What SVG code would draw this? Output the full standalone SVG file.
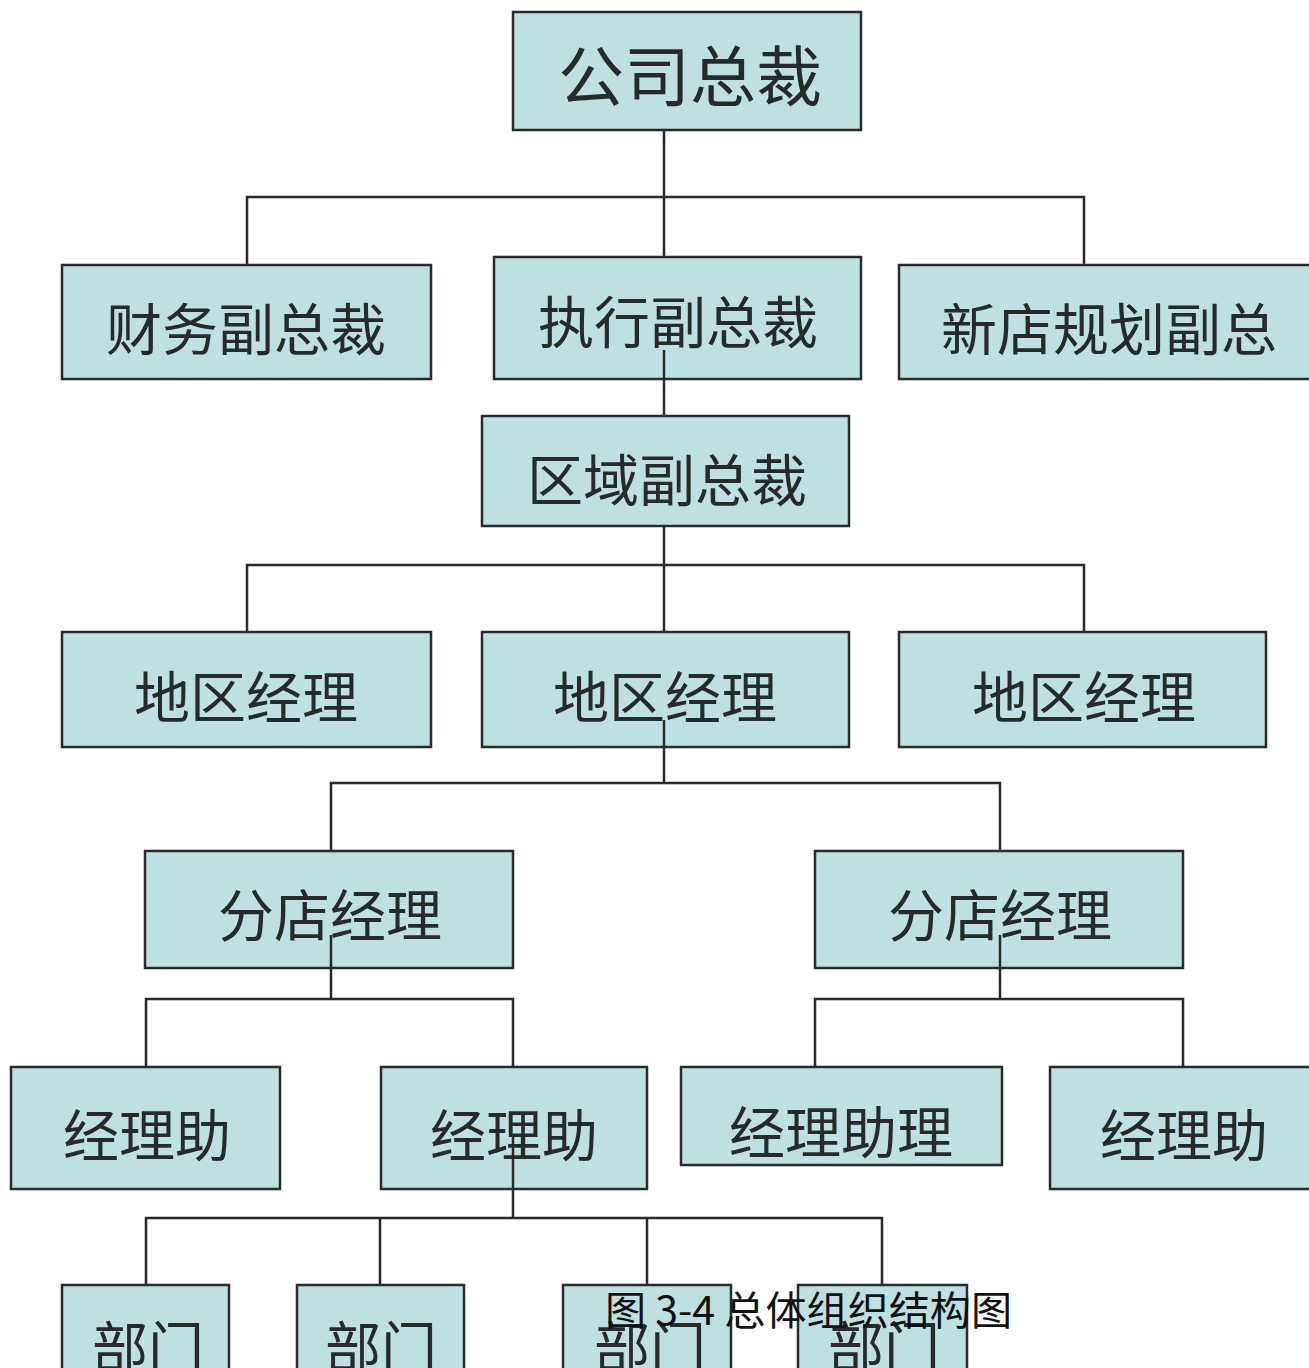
<svg xmlns="http://www.w3.org/2000/svg" width="1309" height="1368" viewBox="0 0 1309 1368">
<style>
.box{fill:#bfe0e2;stroke:#2a2a2a;stroke-width:2.5}
.t{font-family:"Noto Sans CJK SC","Noto Sans",sans-serif;font-size:56px;fill:#262a2b;text-anchor:middle;dominant-baseline:central}
.big{font-size:66px}
.ln{fill:none;stroke:#2a2a2a;stroke-width:2.5}
.cap{font-family:"Noto Sans CJK SC","Noto Sans",serif;font-size:40px;fill:#111}
</style>
<rect width="1309" height="1368" fill="#ffffff"/>
<g id="n-ceo"><rect class="box" x="513" y="12" width="348" height="118"/><text class="t big" x="690" y="72">公司总裁</text></g>
<g id="n-cfo"><rect class="box" x="62" y="265" width="369" height="114"/><text class="t" x="246" y="325">财务副总裁</text></g>
<g id="n-evp"><rect class="box" x="494" y="257" width="367" height="122"/><text class="t" x="678" y="318">执行副总裁</text></g>
<g id="n-new"><rect class="box" x="899" y="265" width="420" height="114"/><text class="t" x="1109" y="325">新店规划副总</text></g>
<g id="n-region"><rect class="box" x="482" y="416" width="367" height="110"/><text class="t" x="667" y="476">区域副总裁</text></g>
<g id="n-area1"><rect class="box" x="62" y="632" width="369" height="115"/><text class="t" x="246" y="693">地区经理</text></g>
<g id="n-area2"><rect class="box" x="482" y="632" width="367" height="115"/><text class="t" x="665" y="693">地区经理</text></g>
<g id="n-area3"><rect class="box" x="899" y="632" width="367" height="115"/><text class="t" x="1084" y="693">地区经理</text></g>
<g id="n-store1"><rect class="box" x="145" y="851" width="368" height="117"/><text class="t" x="330" y="911">分店经理</text></g>
<g id="n-store2"><rect class="box" x="815" y="851" width="368" height="117"/><text class="t" x="1000" y="911">分店经理</text></g>
<g id="n-asst1"><rect class="box" x="11" y="1067" width="269" height="122"/><text class="t" x="147" y="1131">经理助</text></g>
<g id="n-asst2"><rect class="box" x="381" y="1067" width="266" height="122"/><text class="t" x="514" y="1131">经理助</text></g>
<g id="n-asst3"><rect class="box" x="681" y="1067" width="321" height="98"/><text class="t" x="841" y="1128">经理助理</text></g>
<g id="n-asst4"><rect class="box" x="1050" y="1067" width="269" height="122"/><text class="t" x="1184" y="1131">经理助</text></g>
<g id="n-dept1"><rect class="box" x="62" y="1285" width="167" height="100"/><text class="t" x="148" y="1343">部门</text></g>
<g id="n-dept2"><rect class="box" x="297" y="1285" width="167" height="100"/><text class="t" x="381" y="1343">部门</text></g>
<g id="n-dept3"><rect class="box" x="563" y="1285" width="168" height="100"/><text class="t" x="650" y="1343">部门</text></g>
<g id="n-dept4"><rect class="box" x="798" y="1285" width="169" height="100"/><text class="t" x="884" y="1343">部门</text></g>
<g id="connectors">
<path class="ln" d="M664 130V257M247 265V197H1084V265"/>
<path class="ln" d="M664 350V416"/>
<path class="ln" d="M664 526V632M247 632V565H1084V632"/>
<path class="ln" d="M664 720V783M331 851V783H1000V851"/>
<path class="ln" d="M331 935V999M146 1067V999H513V1067"/>
<path class="ln" d="M1000 935V999M815 1067V999H1183V1067"/>
<path class="ln" d="M513 1135V1218M146 1285V1218H882V1285M380 1218V1285M647 1218V1285"/>
</g>
<text class="cap" x="605" y="1325" textLength="407" lengthAdjust="spacingAndGlyphs">图 3-4 总体组织结构图</text>
</svg>
